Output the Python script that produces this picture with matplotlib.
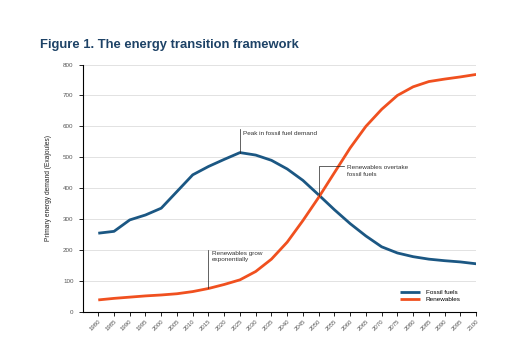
import numpy as np
import matplotlib
matplotlib.use("Agg")
import matplotlib.pyplot as plt

# ---------- data ----------
years = list(range(1980, 2101, 5))
fossil = [254, 260, 297, 313, 335, 389, 443, 470, 493, 515,
          507, 490, 462, 425, 378, 330, 285, 245, 210, 190,
          178, 170, 165, 161, 155]
renew = [38, 43, 47, 51, 54, 58, 65, 75, 88, 103,
         130, 170, 225, 295, 370, 450, 530, 600, 655, 700,
         728, 745, 753, 760, 768]

BLUE = '#1b5783'
RED = '#f0501f'
TITLE_C = '#1d4266'
TXT = '#333333'

plt.rcParams['font.family'] = ['Liberation Sans', 'DejaVu Sans']

fig = plt.figure(figsize=(5.29, 3.49), dpi=100)
fig.patch.set_facecolor('white')
ax = fig.add_axes([0.156, 0.107, 0.744, 0.708])

x = np.arange(len(years))
ax.plot(x, fossil, color=BLUE, lw=2.0, label='Fossil fuels', solid_capstyle='butt')
ax.plot(x, renew, color=RED, lw=2.0, label='Renewables', solid_capstyle='butt')

ax.set_xlim(-1, len(years) - 1)
ax.set_ylim(0, 800)
ax.set_yticks(range(0, 801, 100))
ax.set_xticks(x)
ax.set_xticklabels([str(y) for y in years], rotation=45, ha='right',
                   rotation_mode='anchor', fontsize=4.3, color='#555555')
ax.tick_params(axis='y', labelsize=4.5, colors='#555555', length=3, width=0.6)
ax.tick_params(axis='x', length=3, width=0.6, pad=2)
ax.tick_params(axis='y', color='black')
ax.tick_params(axis='x', color='black')
ax.grid(True, axis='y', color='#dddddd', lw=0.6)
ax.set_axisbelow(True)
for s in ['top', 'right']:
    ax.spines[s].set_visible(False)
for s in ['left', 'bottom']:
    ax.spines[s].set_linewidth(0.8)

ax.set_ylabel('Primary energy demand (Exajoules)', fontsize=4.8, color='#222222', labelpad=8)

# annotations
ip = years.index(2025)
ax.plot([ip, ip], [fossil[ip], fossil[ip] + 75], color='#222222', lw=0.5)
ax.text(ip + 0.2, fossil[ip] + 62, 'Peak in fossil fuel demand', fontsize=4.6,
        color=TXT, ha='left', va='center')

ig = years.index(2015)
ax.plot([ig, ig], [renew[ig], renew[ig] + 125], color='#222222', lw=0.5)
ax.text(ig + 0.2, renew[ig] + 122, 'Renewables grow\nexponentially', fontsize=4.6,
        color=TXT, ha='left', va='top', linespacing=1.4)

ic = years.index(2050)
ax.plot([ic, ic, ic + 1.6], [375, 470, 470], color='#222222', lw=0.5)
ax.text(ic + 1.8, 475, 'Renewables overtake\nfossil fuels', fontsize=4.6,
        color=TXT, ha='left', va='top', linespacing=1.4)

leg = ax.legend(loc='lower right', bbox_to_anchor=(0.975, 0.015), frameon=False,
                fontsize=4.6, handlelength=3.2, labelspacing=0.3)

fig.text(0.076, 0.87, 'Figure 1. The energy transition framework', fontsize=9.4,
         fontweight='bold', color=TITLE_C, ha='left', va='center')

fig.savefig('out.png', dpi=100, facecolor='white')
